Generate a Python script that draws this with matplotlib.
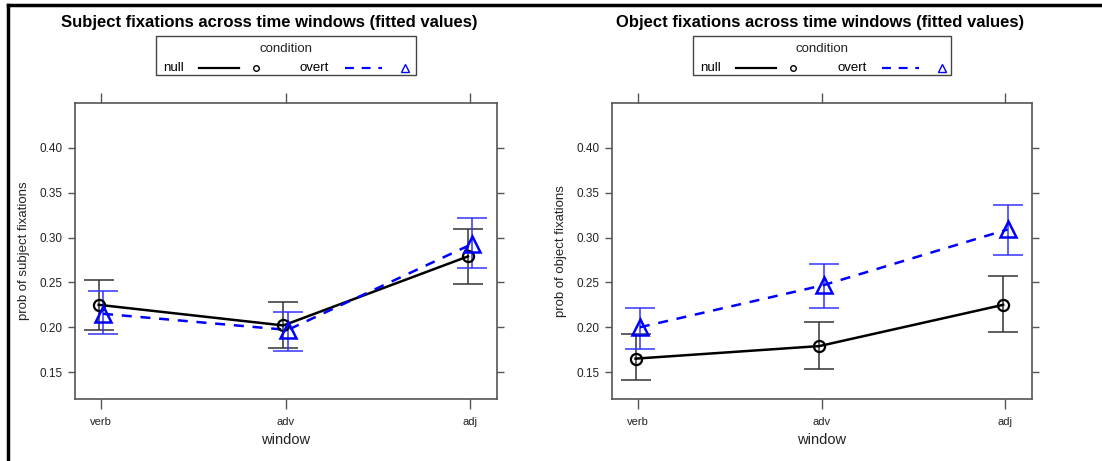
import numpy as np
import matplotlib
matplotlib.use('Agg')
import matplotlib.pyplot as plt
from matplotlib.lines import Line2D
from matplotlib.patches import Rectangle

plt.rcParams['font.family'] = ['Liberation Sans', 'DejaVu Sans']

windows = ['verb', 'adv', 'adj']

# subject fixations (fitted values with CI)
subj_null = [0.225, 0.202, 0.279]
subj_null_lo = [0.197, 0.177, 0.248]
subj_null_hi = [0.253, 0.228, 0.310]
subj_overt = [0.215, 0.197, 0.293]
subj_overt_lo = [0.192, 0.174, 0.266]
subj_overt_hi = [0.240, 0.217, 0.322]

# object fixations
obj_null = [0.165, 0.179, 0.225]
obj_null_lo = [0.141, 0.153, 0.195]
obj_null_hi = [0.193, 0.206, 0.257]
obj_overt = [0.200, 0.247, 0.309]
obj_overt_lo = [0.176, 0.221, 0.280]
obj_overt_hi = [0.221, 0.271, 0.336]

yticks = [0.15, 0.20, 0.25, 0.30, 0.35, 0.40]

W, H = 1102, 461
fig = plt.figure(figsize=(W / 100, H / 100), dpi=100)

def px(x0, y0, x1, y1):
    # pixel box (top-left origin) -> figure fraction rect
    return [x0 / W, (H - y1) / H, (x1 - x0) / W, (y1 - y0) / H]

spine_col = '#555555'
null_col = 'black'
overt_col = '#0000ff'
null_err = '#333333'
overt_err = '#3333ff'

def panel(box, title, ylabel, null, nlo, nhi, overt, olo, ohi, leg_x0, leg_x1, title_x):
    ax = fig.add_axes(px(*box))
    x = np.arange(1, len(windows) + 1)
    d = 0.012
    ax.errorbar(x - d, null, yerr=[np.array(null) - np.array(nlo), np.array(nhi) - np.array(null)],
                fmt='none', ecolor=null_err, elinewidth=1.1, capsize=11, capthick=1.1, zorder=2)
    ax.errorbar(x + d, overt, yerr=[np.array(overt) - np.array(olo), np.array(ohi) - np.array(overt)],
                fmt='none', ecolor=overt_err, elinewidth=1.1, capsize=11, capthick=1.1, zorder=2)
    ax.plot(x - d, null, color=null_col, lw=1.8, zorder=3)
    ax.plot(x + d, overt, color=overt_col, lw=1.8, ls=(0, (4, 3.5)), zorder=3)
    ax.plot(x - d, null, ls='none', marker='o', ms=8, mfc='none', mec=null_col, mew=1.6, zorder=4)
    ax.plot(x + d, overt, ls='none', marker='^', ms=11, mfc='none', mec=overt_col, mew=1.8, zorder=4)

    ax.set_xlim(0.86, 3.145)
    ax.set_ylim(0.12, 0.45)
    ax.set_xticks(x)
    ax.set_xticklabels(windows, fontsize=8)
    ax.set_yticks(yticks)
    ax.set_yticklabels(['%.2f' % v for v in yticks], fontsize=8.5)
    ax.tick_params(axis='both', direction='out', color=spine_col, length=5, width=1,
                   labelcolor='#222222')
    ax.tick_params(axis='x', top=True, length=7, pad=6)
    ax.tick_params(axis='y', right=True, pad=4)
    for s in ax.spines.values():
        s.set_color(spine_col)
        s.set_linewidth(1.2)
    ax.set_xlabel('window', fontsize=10.5, color='#222222', labelpad=4)
    ax.set_ylabel(ylabel, fontsize=9.5, color='#222222', labelpad=7)

    fig.text(title_x / W, 1 - 23 / H, title, fontsize=12, fontweight='bold',
             ha='center', va='center')

    # lattice style key
    lx0, ly0, lx1, ly1 = leg_x0, 36, leg_x1, 75
    fig.add_artist(Rectangle((lx0 / W, 1 - ly1 / H), (lx1 - lx0) / W, (ly1 - ly0) / H,
                             transform=fig.transFigure, fill=False, ec='#444444', lw=1))
    cx = (lx0 + lx1) / 2
    fig.text(cx / W, 1 - 49 / H, 'condition', fontsize=9.5, ha='center', va='center', color='#222222')
    yy = 1 - 68 / H
    fig.text((lx0 + 7) / W, yy, 'null', fontsize=9.5, ha='left', va='center')
    fig.add_artist(Line2D([(lx0 + 43) / W, (lx0 + 83) / W], [yy, yy], color=null_col, lw=1.6,
                          transform=fig.transFigure))
    fig.add_artist(Line2D([(lx0 + 100) / W], [yy], marker='o', ms=4, mfc='none', mec=null_col,
                          mew=1, transform=fig.transFigure))
    fig.text((lx0 + 144) / W, yy, 'overt', fontsize=9.5, ha='left', va='center')
    fig.add_artist(Line2D([(lx0 + 189) / W, (lx0 + 226) / W], [yy, yy], color=overt_col, lw=1.6,
                          ls=(0, (4, 3.5)), transform=fig.transFigure))
    fig.add_artist(Line2D([(lx0 + 249) / W], [yy], marker='^', ms=6, mfc='none', mec=overt_col,
                          mew=1, transform=fig.transFigure))
    return ax

panel((75, 103, 497, 399), 'Subject fixations across time windows (fitted values)',
      'prob of subject fixations', subj_null, subj_null_lo, subj_null_hi,
      subj_overt, subj_overt_lo, subj_overt_hi, 156, 416, 269)
panel((612, 103, 1032, 399), 'Object fixations across time windows (fitted values)',
      'prob of object fixations', obj_null, obj_null_lo, obj_null_hi,
      obj_overt, obj_overt_lo, obj_overt_hi, 693, 951, 820)

# outer frame (left and top edges visible)
fig.add_artist(Line2D([8 / W, 8 / W], [0, 1 - 5 / H], color='black', lw=2.5, transform=fig.transFigure))
fig.add_artist(Line2D([8 / W, 1], [1 - 5 / H, 1 - 5 / H], color='black', lw=2.5, transform=fig.transFigure))

fig.savefig('out.png', dpi=100, facecolor='white')
